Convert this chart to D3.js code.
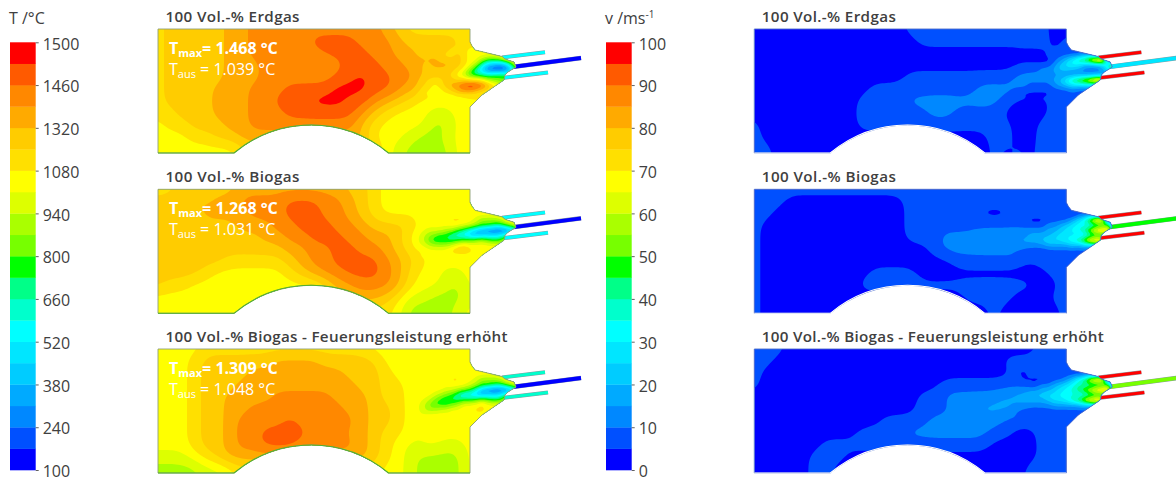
<!DOCTYPE html>
<html>
<head>
<meta charset="utf-8">
<script src="https://cdn.jsdelivr.net/npm/d3@7"></script>
<style>
  html, body { margin: 0; padding: 0; background: #fff; }
  text { font-family: "Open Sans", sans-serif; fill: #404040; }
  .title { font-size: 15.2px; font-weight: 600; }
  .legend-title { font-size: 16px; }
  .tick text { font-family: "Open Sans", sans-serif; font-size: 16px; fill: #404040; }
  .tick line { stroke: #606060; }
  .note { fill: #fff; font-size: 16px; }
</style>
</head>
<body>
<div id="chart-container"></div>
<script>
//band colours of the legend, lowest band first
const bandColors = ["#0000ff", "#0050ff", "#0088ff", "#00aaff", "#00ccff", "#00e6ff", "#00ffff", "#00ffcc", "#00ff88", "#00ff00",
  "#77ff00", "#aaff00", "#ddff00", "#ffff00", "#ffe000", "#ffcc00", "#ffaa00", "#ff8800", "#ff5a00", "#ff0000"];
const tempTicks = [1500, 1460, 1320, 1080, 940, 800, 660, 520, 380, 240, 100];
const speedTicks = [100, 90, 80, 70, 60, 50, 40, 30, 20, 10, 0];

const titles = ["100 Vol.-% Erdgas", "100 Vol.-% Biogas", "100 Vol.-% Biogas - Feuerungsleistung erhöht"];
const titleWidths = [134, 134, 342];
const tmaxLabels = ["1.468 °C", "1.268 °C", "1.309 °C"];
const tausLabels = ["1.039 °C", "1.031 °C", "1.048 °C"];

//band number at each node of the chamber
const tempErdgas = [
  [14,15,15,15,15,15,16,16,17,17,17,17,17,17,17,17,17,17,17,16,15,14,14,14,14,14,13],
  [14,15,15,15,15,15,16,16,17,17,17,17,17,18,18,18,18,17,17,17,16,15,15,15,15,15,14],
  [14,15,15,15,15,15,16,16,17,17,17,17,17,17,18,18,18,18,17,17,16,16,15,15,15,14,13],
  [14,15,15,15,15,15,16,16,16,17,17,17,16,16,16,17,18,18,18,17,17,16,16,15,15,14,14],
  [14,15,15,15,15,15,16,16,16,17,17,17,17,17,17,18,18,19,18,18,17,17,16,15,14,13,12],
  [14,15,15,15,15,16,16,16,17,17,17,18,18,18,18,19,19,19,18,18,17,16,15,14,13,14,15],
  [14,15,15,15,15,16,16,16,17,17,18,18,18,19,19,19,18,18,17,16,15,14,13,13,13,13,13],
  [14,14,15,15,15,16,16,16,17,17,17,18,18,18,18,18,18,17,15,14,13,13,13,12,12,13,13],
  [13,14,14,15,15,15,16,16,17,17,17,17,17,17,17,17,17,15,14,13,13,13,13,11,11,13,13],
  [13,13,13,14,14,15,15,16,16,16,16,16,16,16,16,16,16,16,13,13,13,12,11,11,12,13,13],
  [13,13,13,13,13,13,13,14,15,15,15,15,15,15,15,15,15,15,15,13,12,11,11,11,11,13,13]
];
const tempBiogas = [
  [14,14,15,15,15,15,15,16,16,16,16,16,16,16,16,16,15,15,14,13,13,13,13,13,13,13,13],
  [15,15,16,16,15,16,16,17,17,17,17,18,18,18,17,17,16,15,14,13,13,13,13,13,13,13,13],
  [15,15,15,15,16,16,16,16,17,17,17,18,18,18,17,17,16,15,14,13,13,13,13,13,13,13,13],
  [15,15,15,15,15,15,15,16,16,16,17,17,18,18,18,17,17,16,15,15,15,15,13,13,13,13,13],
  [15,15,15,15,15,15,15,15,15,16,16,17,17,18,18,18,17,17,16,16,15,13,12,11,9,6,4],
  [15,15,15,15,15,15,15,15,15,15,15,16,16,17,17,18,18,17,17,16,15,14,13,13,13,13,13],
  [15,15,15,15,15,15,14,14,14,14,14,15,16,17,17,18,18,18,18,17,16,15,14,13,13,13,13],
  [15,15,15,15,14,13,13,13,13,13,13,14,15,16,17,17,18,18,18,17,16,14,13,13,12,12,13],
  [15,14,14,13,13,13,13,13,13,13,13,13,13,13,14,16,16,17,17,17,16,14,13,13,12,11,13],
  [13,13,13,13,13,13,13,13,13,13,13,13,13,13,14,15,16,16,16,15,14,12,12,11,11,11,12],
  [13,13,13,13,13,13,13,13,13,13,13,13,13,13,13,13,14,14,14,14,13,11,11,11,11,12,13]
];
const tempBiogasHigh = [
  [13,13,13,13,14,14,14,14,14,14,14,14,14,14,14,14,14,14,13,13,13,13,13,13,13,13,13],
  [13,13,13,14,15,15,15,15,15,15,16,16,16,16,15,15,15,15,15,13,13,13,13,13,13,13,13],
  [13,13,13,14,15,15,15,15,16,16,16,16,16,16,16,16,15,15,15,14,13,13,13,13,13,13,13],
  [13,13,13,14,15,15,15,16,16,16,16,16,16,16,16,16,16,15,15,14,14,13,13,13,13,13,13],
  [13,13,13,14,15,15,16,16,16,16,17,17,17,17,17,16,16,16,15,14,14,13,13,13,13,13,13],
  [13,13,13,14,15,15,16,16,17,17,17,17,17,17,17,17,16,16,15,15,14,13,13,13,13,13,13],
  [13,13,13,14,15,15,16,17,17,17,17,18,17,17,17,17,17,16,15,15,14,13,13,13,13,13,13],
  [13,13,13,14,15,15,16,17,17,18,18,18,18,17,17,17,16,16,15,14,14,13,12,13,13,13,13],
  [13,13,13,14,15,15,16,17,17,18,18,18,17,17,17,17,17,16,15,14,13,12,13,13,12,12,13],
  [12,12,12,13,14,15,16,16,16,16,16,16,16,16,16,16,16,16,15,14,13,12,11,11,11,11,13],
  [11,11,11,11,12,12,13,14,14,14,14,14,14,14,14,14,14,14,14,13,13,12,11,11,11,11,13]
];
const speedErdgas = [
  [0,0,0,0,0,0,0,0,0,0,0,0,0,1,1,1,1,1,1,1,1,1,1,1,1,0,0],
  [0,0,0,0,0,0,0,0,0,0,0,0,0,0,1,1,1,1,1,1,1,1,1,1,1,0,1],
  [0,0,0,0,0,0,0,0,0,0,0,0,0,0,0,0,0,0,0,0,0,0,0,1,1,0,1],
  [0,0,0,0,0,0,0,0,0,0,0,0,0,0,0,0,0,0,0,0,0,0,0,0,1,2,2],
  [0,0,0,0,0,0,0,0,0,0,0,0,0,1,1,1,1,1,1,1,1,1,2,2,2,2,3],
  [0,0,0,0,0,0,0,0,0,0,1,1,1,1,1,1,1,1,1,2,2,2,2,1,1,1,2],
  [0,0,0,0,0,0,0,0,0,1,1,1,1,2,2,2,2,2,2,2,2,1,0,0,0,1,1],
  [0,0,0,0,0,0,0,0,0,1,1,1,1,1,1,2,2,1,1,1,1,0,0,0,0,1,1],
  [1,0,0,0,0,0,0,0,0,1,1,1,1,1,1,1,1,1,1,1,1,1,0,0,1,1,1],
  [1,0,0,0,0,0,0,0,0,0,0,0,0,0,0,0,0,0,0,0,1,1,0,0,1,1,1],
  [1,1,0,0,0,0,0,0,0,0,0,0,0,0,0,0,0,0,0,0,1,0,1,0,1,1,1]
];
const speedBiogas = [
  [1,1,1,1,1,1,1,1,1,1,1,1,1,1,1,1,1,1,1,1,1,1,1,1,1,1,1],
  [1,1,1,0,0,0,0,0,0,0,0,0,0,1,1,1,1,0,1,1,1,1,1,1,1,1,1],
  [1,1,0,0,0,0,0,0,0,0,0,0,0,1,1,1,1,0,1,0,0,0,1,1,1,1,1],
  [1,0,0,0,0,0,0,0,0,0,0,0,0,1,1,1,1,1,1,1,1,1,1,1,1,1,1],
  [1,0,0,0,0,0,0,0,0,0,0,0,0,1,1,1,2,2,2,3,3,3,3,3,4,4,5],
  [1,0,0,0,0,0,0,0,0,0,0,0,0,0,0,1,2,2,2,2,2,2,2,2,2,2,2],
  [1,0,0,0,0,0,0,0,0,0,0,0,0,0,0,0,0,1,1,1,1,1,1,0,1,1,1],
  [1,0,0,0,0,0,0,0,0,0,1,1,1,1,0,0,0,0,0,0,0,0,0,0,0,1,1],
  [1,0,0,0,0,0,0,0,0,1,1,1,1,1,1,1,1,1,1,1,1,1,1,1,0,0,1],
  [1,0,0,0,0,0,0,0,0,0,0,0,0,0,0,0,0,0,1,1,1,1,0,0,0,1,1],
  [1,0,0,0,0,0,0,0,0,0,0,0,0,0,0,0,0,0,0,0,1,0,0,0,0,0,1]
];
const speedBiogasHigh = [
  [1,1,1,0,0,0,0,0,0,0,0,0,0,0,0,0,0,0,0,0,0,0,0,0,1,1,1],
  [1,1,0,0,0,0,0,0,0,0,0,0,0,0,0,0,0,0,0,0,0,1,1,1,1,1,1],
  [1,0,0,0,0,0,0,0,0,0,0,0,0,0,0,0,0,0,0,0,0,0,1,1,1,1,1],
  [1,0,0,0,0,0,0,0,0,0,0,0,0,0,0,0,1,1,1,1,1,1,1,1,1,1,1],
  [0,0,0,0,0,0,0,0,0,0,0,0,0,0,1,1,2,2,2,2,2,3,3,4,4,4,5],
  [0,0,0,0,0,0,0,0,0,0,0,0,0,0,1,1,1,2,2,3,3,3,2,2,2,2,2],
  [0,0,0,0,0,0,0,0,0,0,0,1,1,1,1,2,2,2,2,2,2,1,1,1,1,1,1],
  [0,0,0,0,0,0,0,0,0,1,1,1,1,2,2,2,2,2,2,2,1,1,0,0,1,1,1],
  [0,0,0,0,0,0,1,1,1,1,1,1,1,1,1,1,1,1,1,1,0,0,0,0,1,1,1],
  [0,0,0,0,0,1,1,1,0,0,0,0,0,0,0,0,0,0,0,0,0,0,0,0,1,0,1],
  [0,0,0,0,0,1,1,0,0,0,0,0,0,0,0,0,0,0,0,0,0,0,0,1,1,1,1]
];

//finer reading around the burner
const burnerTempErdgas = [
  [15,15,15,15,15,15,15,14,14,14,13,13,13,13,13,13,13,13,13],
  [15,15,15,15,15,15,15,14,14,14,13,13,13,13,13,13,13,13,13],
  [15,15,15,15,15,15,14,14,15,14,13,13,13,13,13,13,16,13,13],
  [16,16,16,16,16,15,15,15,15,14,13,13,11,9,9,10,12,13,13],
  [16,16,15,15,16,16,16,15,15,14,13,11,7,4,3,2,3,9,13],
  [15,15,15,15,15,15,15,15,14,13,10,7,4,1,0,0,1,3,10],
  [15,15,15,15,15,15,15,14,13,11,9,8,8,8,9,10,9,10,13],
  [15,14,14,14,14,14,15,15,14,15,14,14,13,11,10,9,9,12,13],
  [14,14,14,14,13,14,15,16,17,18,19,19,18,16,14,13,13,13,13],
  [14,14,13,13,13,13,14,15,16,17,17,16,15,14,13,13,13,13,13],
  [13,13,13,13,13,13,13,13,14,14,14,14,13,13,13,13,13,13,13],
  [13,13,13,13,13,13,13,13,13,13,13,13,13,13,13,13,13,13,13]
];
const burnerTempBiogas = [
  [13,13,13,13,13,13,13,13,13,13,13,13,13,13,13,13,13,13,13],
  [13,13,13,13,13,13,13,13,13,13,13,13,13,13,13,13,13,13,13],
  [13,13,13,13,13,13,13,13,13,13,13,13,13,13,13,13,13,13,13],
  [14,13,13,13,13,13,13,14,14,14,13,12,10,10,10,11,13,13,13],
  [15,14,13,13,13,13,13,13,13,12,12,11,10,10,9,8,10,12,13],
  [15,13,13,12,12,12,11,11,9,8,6,4,2,1,0,0,0,1,6],
  [13,12,11,10,10,9,9,7,6,5,4,3,4,5,5,6,8,12,13],
  [12,11,10,9,8,8,8,8,9,10,10,11,12,10,9,9,12,13,13],
  [13,12,12,11,11,11,11,12,13,14,13,13,13,13,13,13,13,13,13],
  [14,14,14,13,13,13,13,14,15,15,14,13,13,13,13,13,13,13,13],
  [14,14,13,13,13,13,13,13,13,13,13,13,13,13,13,13,13,13,13],
  [13,13,13,13,13,13,13,13,13,13,13,13,13,13,13,13,13,13,13]
];
const burnerTempBiogasHigh = [
  [13,13,13,13,13,13,13,13,13,13,13,13,13,13,13,13,13,13,13],
  [13,13,13,13,13,13,13,13,13,13,13,13,13,13,13,13,13,13,13],
  [13,13,13,13,13,13,13,13,13,13,13,13,13,13,13,13,13,13,13],
  [13,13,13,13,13,13,13,14,14,13,13,12,10,10,10,11,13,13,13],
  [13,13,13,13,13,13,13,13,13,13,12,11,10,10,9,8,10,12,13],
  [13,13,13,13,13,13,12,12,11,10,9,7,3,1,0,0,0,1,6],
  [13,13,13,13,12,11,10,9,7,5,5,4,3,5,5,6,9,12,13],
  [13,12,12,11,10,9,8,8,8,9,9,10,12,10,9,9,12,13,13],
  [12,11,10,9,9,9,9,10,11,13,13,13,14,13,13,13,13,13,13],
  [11,11,10,10,11,12,12,13,13,13,13,14,14,13,13,13,13,13,13],
  [12,12,12,13,13,13,13,13,13,13,13,13,13,13,13,13,13,13,13],
  [13,13,13,13,13,13,13,13,13,13,13,13,13,13,13,13,13,13,13]
];
const burnerSpeedErdgas = [
  [0,0,0,0,0,0,1,1,1,1,0,0,0,0,0,0,0,0,0],
  [0,0,0,0,0,0,0,1,1,1,1,1,1,1,1,1,0,0,0],
  [0,0,0,0,0,0,0,1,1,1,1,1,1,2,2,1,1,0,0],
  [0,0,0,0,0,0,0,0,1,2,4,6,9,11,15,18,19,1,0],
  [1,1,1,1,1,1,1,1,2,4,5,6,5,3,2,2,3,8,10],
  [2,1,1,1,1,1,2,2,3,4,4,3,3,2,2,2,3,6,9],
  [2,2,2,2,2,2,2,2,2,2,2,2,2,2,2,2,2,1,0],
  [2,2,2,2,2,2,2,2,3,4,6,9,11,13,15,18,19,1,0],
  [2,2,2,2,1,1,1,1,2,3,4,5,5,5,5,4,3,0,0],
  [1,1,1,1,1,1,1,1,1,1,1,2,1,1,1,1,0,0,0],
  [1,1,0,0,0,0,0,0,1,1,1,1,1,1,1,0,0,0,0],
  [1,1,1,0,0,0,0,1,1,1,1,1,1,1,1,0,0,0,0]
];
const burnerSpeedBiogas = [
  [1,1,1,1,1,1,1,1,0,0,0,0,0,0,0,0,0,0,0],
  [1,1,1,1,1,1,1,1,1,1,1,1,1,1,1,1,1,0,0],
  [0,0,0,1,1,1,1,1,1,1,1,0,1,1,2,1,1,0,0],
  [0,0,0,0,0,0,0,1,1,1,1,3,5,8,13,18,18,2,0],
  [1,1,1,1,1,1,1,2,2,3,4,5,6,5,4,4,5,9,2],
  [2,2,2,2,2,2,2,3,3,4,5,6,7,9,13,17,18,18,4],
  [2,2,2,2,3,3,3,3,4,5,5,5,4,4,5,5,5,3,1],
  [3,3,3,3,3,3,4,5,5,5,6,7,9,12,16,18,18,1,0],
  [2,2,2,2,2,2,2,3,3,3,3,4,3,4,4,4,2,0,0],
  [1,1,1,1,1,1,1,1,1,1,1,1,1,1,1,1,0,0,0],
  [0,0,0,0,0,0,0,1,1,1,1,1,1,1,1,0,0,0,0],
  [0,0,0,0,0,0,0,0,1,1,1,1,1,1,1,0,0,0,0]
];
const burnerSpeedBiogasHigh = [
  [0,0,0,1,1,1,1,1,0,0,0,0,0,0,0,0,0,0,0],
  [0,0,0,0,1,1,1,1,0,1,1,1,1,1,1,1,1,0,0],
  [0,0,0,0,1,1,1,1,1,1,1,1,1,1,2,1,1,0,0],
  [0,0,0,0,0,0,0,0,1,1,2,4,7,10,15,18,18,2,0],
  [1,1,1,1,1,1,2,2,3,4,5,6,7,6,5,4,5,9,2],
  [2,2,2,2,2,2,3,3,4,5,6,7,9,11,14,17,18,18,4],
  [3,3,3,3,4,4,4,5,5,6,6,6,5,5,5,5,5,3,1],
  [3,3,3,3,3,3,3,4,5,5,6,8,10,13,16,18,18,1,0],
  [2,2,2,2,2,2,2,2,3,3,3,3,3,4,4,4,2,0,0],
  [1,1,1,1,1,1,1,1,1,1,1,1,1,1,1,1,0,0,0],
  [1,1,0,0,0,0,1,1,1,1,1,1,1,1,1,0,0,0,0],
  [1,1,0,0,0,0,0,1,1,1,1,1,1,1,1,0,0,0,0]
];

//band of the three feed pipes: upper, centre, lower
const pipesTempErdgas = [6, 0, 6];
const pipesTempBiogas = [6, 0, 6];
const pipesTempBiogasHigh = [7, 0, 7];
const pipesSpeedErdgas = [19, 5, 19];
const pipesSpeedBiogas = [19, 9, 19];
const pipesSpeedBiogasHigh = [19, 10, 19];

const width = 1176;
const height = 479;
const rowOffsets = [0, 160.3, 320];
const colOffset = 596.3;

const svg = d3.select("#chart-container")
  .append("svg")
  .attr("width", width)
  .attr("height", height)
  .style("display", "block");

//chamber geometry in first panel coordinates
const arcLeft = 234;
const arcRight = 388.5;
const arcTop = 125;
const floorY = 153;
const halfChord = (arcRight - arcLeft) / 2;
const sagitta = floorY - arcTop;
const arcR = (halfChord * halfChord + sagitta * sagitta) / (2 * sagitta);
const arcCx = (arcLeft + arcRight) / 2;
const arcCy = arcTop + arcR;
const arcA0 = Math.atan2(floorY - arcCy, arcRight - arcCx);
const arcA1 = Math.atan2(floorY - arcCy, arcLeft - arcCx);

const wallPoints = [[158, 29], [470, 29], [470, 42], [472, 46], [475, 50], [502, 56.5], [505, 59], [514, 62],
  [516, 67], [508, 72], [505, 75], [504, 80], [482, 95], [470, 107], [470, floorY]];

const chamber = d3.path();
wallPoints.forEach((p, i) => (i ? chamber.lineTo(p[0], p[1]) : chamber.moveTo(p[0], p[1])));
chamber.lineTo(arcRight, floorY);
chamber.arc(arcCx, arcCy, arcR, arcA0, arcA1, true);
chamber.lineTo(158, floorY);
chamber.closePath();

const arcOnly = d3.path();
arcOnly.moveTo(158, floorY);
arcOnly.lineTo(arcLeft, floorY);
arcOnly.arc(arcCx, arcCy, arcR, arcA1, arcA0, false);
arcOnly.lineTo(470, floorY);

svg.append("defs").append("clipPath").attr("id", "chamber-clip")
  .append("path").attr("d", chamber.toString());

//raster the contours are traced on
const step = 2;
const rasterX0 = 150;
const rasterY0 = 21;
const rasterW = 188;
const rasterH = 70;

const sampleGrid = (grid, x0, dx, y0, dy) => {
  const rows = grid.length;
  const cols = grid[0].length;
  const out = new Float64Array(rasterW * rasterH);
  for (let j = 0; j < rasterH; j++) {
    const v = Math.max(0, Math.min(rows - 1, (rasterY0 + j * step - y0) / dy));
    const j0 = Math.min(rows - 2, Math.floor(v));
    for (let i = 0; i < rasterW; i++) {
      const u = Math.max(0, Math.min(cols - 1, (rasterX0 + i * step - x0) / dx));
      const i0 = Math.min(cols - 2, Math.floor(u));
      const a = d3.interpolateNumber(grid[j0][i0], grid[j0][i0 + 1])(u - i0);
      const b = d3.interpolateNumber(grid[j0 + 1][i0], grid[j0 + 1][i0 + 1])(u - i0);
      out[j * rasterW + i] = a + (b - a) * (v - j0) + 0.5;
    }
  }
  return out;
};

const smooth01 = (t) => {
  const c = Math.max(0, Math.min(1, t));
  return c * c * (3 - 2 * c);
};

const buildField = (grid, burner) => {
  const coarse = sampleGrid(grid, 158, 12, 29, 12);
  d3.blur2({ data: coarse, width: rasterW, height: rasterH }, 3);
  const fine = sampleGrid(burner, 410, 6, 45, 5);
  d3.blur2({ data: fine, width: rasterW, height: rasterH }, 0.7);
  const out = new Float64Array(rasterW * rasterH);
  for (let j = 0; j < rasterH; j++) {
    const y = rasterY0 + j * step;
    for (let i = 0; i < rasterW; i++) {
      const x = rasterX0 + i * step;
      const w = smooth01((x - 410) / 30) * smooth01((y - 45) / 8) * smooth01((100 - y) / 8);
      const k = j * rasterW + i;
      out[k] = coarse[k] + (fine[k] - coarse[k]) * w;
    }
  }
  return out;
};

const drawField = (g, grid, burner) => {
  const values = buildField(grid, burner);
  const x = d3.scaleLinear().domain([0.5, 1.5]).range([rasterX0, rasterX0 + step]);
  const y = d3.scaleLinear().domain([0.5, 1.5]).range([rasterY0, rasterY0 + step]);
  const line = d3.line().x((d) => x(d[0])).y((d) => y(d[1]));
  const bands = d3.contours().size([rasterW, rasterH]).thresholds(d3.range(0, 20))(values);
  g.selectAll("path.band")
    .data(bands)
    .join("path")
    .attr("class", "band")
    .attr("fill", (d) => bandColors[d.value])
    .attr("fill-rule", "evenodd")
    .attr("d", (d) => d.coordinates.map((poly) => poly.map((ring) => line(ring) + "Z").join("")).join(""));
};

const pipeLines = [[[502, 57.5], [545, 52.2]], [[512, 67], [581, 58]], [[504, 77.8], [548, 72.5]]];

const drawPanel = (px, py, title, titleWidth, grid, burner, pipes, wallColor, arcColor) => {
  const g = svg.append("g").attr("transform", `translate(${px},${py})`);
  const line = d3.line();

  //feed pipes
  g.selectAll("path.pipe-edge")
    .data(pipes)
    .join("path")
    .attr("class", "pipe-edge")
    .attr("d", (d, i) => line(pipeLines[i]))
    .attr("stroke", "#8a9aa0")
    .attr("stroke-width", (d, i) => (i === 1 ? 4.6 : 4))
    .attr("fill", "none");
  g.selectAll("path.pipe")
    .data(pipes)
    .join("path")
    .attr("class", "pipe")
    .attr("d", (d, i) => line(pipeLines[i]))
    .attr("stroke", (d) => bandColors[d])
    .attr("stroke-width", (d, i) => (i === 1 ? 3.8 : 3))
    .attr("fill", "none");

  const field = g.append("g").attr("clip-path", "url(#chamber-clip)");
  drawField(field, grid, burner);

  g.append("path").attr("d", chamber.toString())
    .attr("fill", "none").attr("stroke", wallColor).attr("stroke-width", 0.9);
  g.append("path").attr("d", arcOnly.toString())
    .attr("fill", "none").attr("stroke", arcColor).attr("stroke-width", 1.1);

  g.append("text").attr("class", "title").attr("x", 165.5).attr("y", 22)
    .attr("textLength", titleWidth).attr("lengthAdjust", "spacing").text(title);
};

const tempGrids = [tempErdgas, tempBiogas, tempBiogasHigh];
const speedGrids = [speedErdgas, speedBiogas, speedBiogasHigh];
const tempBurners = [burnerTempErdgas, burnerTempBiogas, burnerTempBiogasHigh];
const speedBurners = [burnerSpeedErdgas, burnerSpeedBiogas, burnerSpeedBiogasHigh];
const tempPipes = [pipesTempErdgas, pipesTempBiogas, pipesTempBiogasHigh];
const speedPipes = [pipesSpeedErdgas, pipesSpeedBiogas, pipesSpeedBiogasHigh];

for (let i = 0; i < titles.length; i++) {
  drawPanel(0, rowOffsets[i], titles[i], titleWidths[i], tempGrids[i], tempBurners[i], tempPipes[i], "#8f9f78", "#55b030");
  drawPanel(colOffset, rowOffsets[i], titles[i], titleWidths[i], speedGrids[i], speedBurners[i], speedPipes[i], "#5070c8", "#ffffff");

  //notes in the temperature panels
  const note = svg.append("g").attr("transform", `translate(169,${rowOffsets[i]})`);
  const tmax = note.append("text").attr("class", "note").attr("y", 54).attr("font-weight", 700);
  tmax.append("tspan").text("T");
  tmax.append("tspan").attr("font-size", 11).attr("dy", 3).text("max");
  tmax.append("tspan").attr("dy", -3).text(`= ${tmaxLabels[i]}`);
  const taus = note.append("text").attr("class", "note").attr("y", 75);
  taus.append("tspan").text("T");
  taus.append("tspan").attr("font-size", 11).attr("dy", 3).text("aus");
  taus.append("tspan").attr("dy", -3).text(` = ${tausLabels[i]}`);
}

//legends
const drawLegend = (x0, ticks) => {
  const top = 42.3;
  const bottom = 470;
  const bandY = d3.scaleBand().domain(d3.range(19, -1, -1)).range([top, bottom]);
  svg.append("g").selectAll("rect")
    .data(d3.range(20))
    .join("rect")
    .attr("x", x0)
    .attr("y", (d) => bandY(d))
    .attr("width", 25.7)
    .attr("height", bandY.bandwidth() + 0.3)
    .attr("fill", (d) => bandColors[d]);
  const tickY = d3.scalePoint().domain(ticks).range([top, bottom]);
  const axis = svg.append("g")
    .attr("transform", `translate(${x0 + 25.7},0)`)
    .call(d3.axisRight(tickY).tickSize(3).tickPadding(4).tickFormat((d) => d));
  axis.select(".domain").remove();
  axis.selectAll(".tick text").attr("dy", "0.42em");
};
drawLegend(10, tempTicks);
drawLegend(606, speedTicks);

svg.append("text").attr("class", "legend-title").attr("x", 9).attr("y", 24).text("T /°C");
const vTitle = svg.append("text").attr("class", "legend-title").attr("x", 605).attr("y", 24);
vTitle.append("tspan").text("v /ms");
vTitle.append("tspan").attr("font-size", 10).attr("dy", -6).text("-1");
</script>
</body>
</html>
